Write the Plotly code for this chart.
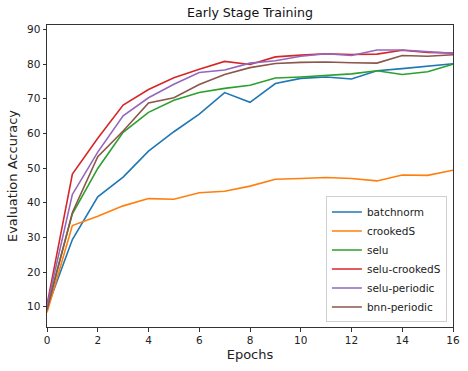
import plotly.graph_objects as go

epochs = list(range(17))
batchnorm = [9.5, 29.4, 41.7, 47.4, 54.9, 60.5, 65.6, 71.8, 69.0, 74.4, 75.9, 76.3, 75.7, 78.1, 78.7, 79.5, 80.1]
crookedS = [8.3, 33.4, 36.1, 39.1, 41.2, 41.0, 42.9, 43.3, 44.8, 46.8, 47.0, 47.3, 47.0, 46.3, 48.0, 47.9, 49.4]
selu = [9.8, 36.8, 49.9, 60.3, 66.1, 69.6, 71.8, 73.0, 73.9, 76.0, 76.3, 76.8, 77.2, 78.1, 77.0, 77.8, 80.0]
selu_crookedS = [10.5, 48.3, 58.6, 68.2, 72.7, 76.1, 78.5, 80.8, 79.9, 82.1, 82.6, 83.0, 82.8, 82.9, 84.0, 83.4, 83.2]
selu_periodic = [10.2, 42.4, 54.6, 65.1, 70.3, 74.2, 77.6, 78.3, 80.3, 81.0, 82.3, 83.0, 82.5, 84.1, 84.1, 83.6, 83.1]
bnn_periodic = [9.0, 37.2, 53.3, 60.7, 68.8, 70.3, 74.1, 77.0, 79.0, 80.2, 80.5, 80.6, 80.4, 80.3, 82.5, 82.3, 82.7]

series = [
    ("batchnorm", batchnorm, "#1f77b4"),
    ("crookedS", crookedS, "#ff7f0e"),
    ("selu", selu, "#2ca02c"),
    ("selu-crookedS", selu_crookedS, "#d62728"),
    ("selu-periodic", selu_periodic, "#9467bd"),
    ("bnn-periodic", bnn_periodic, "#8c564b"),
]

x_ticks = [0, 2, 4, 6, 8, 10, 12, 14, 16]
y_ticks = [10, 20, 30, 40, 50, 60, 70, 80, 90]

fig = go.Figure()
for name, vals, color in series:
    fig.add_trace(go.Scatter(x=epochs, y=vals, mode="lines", name=name,
                             line=dict(color=color, width=1.6)))

font = "DejaVu Sans"
L, R, T, B = 47, 15, 25, 44
W, H = 468, 371
fig.update_layout(
    width=W, height=H,
    margin=dict(l=L, r=R, t=T, b=B, autoexpand=False),
    paper_bgcolor="white", plot_bgcolor="white",
    font=dict(family=font, size=10.5, color="#222"),
    title=dict(text="Early Stage Training", x=(L + W - R) / 2 / W, xanchor="center",
               y=1 - 13 / H, yanchor="middle", font=dict(size=12.6, color="#111")),
    showlegend=True,
    legend=dict(x=0.985, xanchor="right", y=0.015, yanchor="bottom",
                bgcolor="white", bordercolor="#d0d0d0", borderwidth=1,
                font=dict(size=10.5, color="#222"), itemwidth=30, tracegroupgap=0),
)
fig.update_xaxes(range=[0, 16], tickvals=x_ticks, ticks="outside", ticklen=3.5,
                 tickcolor="#333", showline=True, linecolor="#333", linewidth=1,
                 mirror=True, showgrid=False, zeroline=False, automargin=False,
                 title=dict(text="Epochs", standoff=4))
fig.update_yaxes(range=[4.14, 91.3], tickvals=y_ticks, ticks="outside", ticklen=3.5,
                 tickcolor="#333", showline=True, linecolor="#333", linewidth=1,
                 mirror=True, showgrid=False, zeroline=False, automargin=False,
                 title=dict(text="Evaluation Accuracy", standoff=6))

fig.write_html("out.html", config={"displayModeBar": False},
               post_script="document.body.style.margin='0';document.body.style.overflow='hidden';")
